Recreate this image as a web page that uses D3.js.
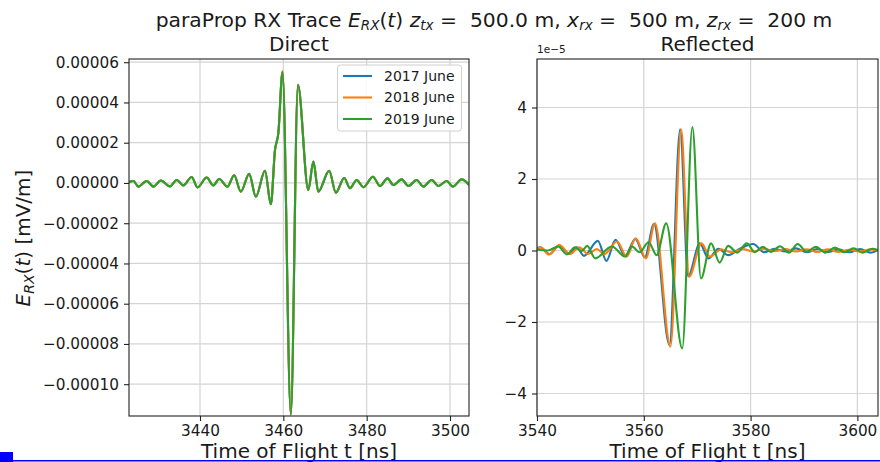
<!DOCTYPE html>
<html><head><meta charset="utf-8">
<script src="https://cdn.jsdelivr.net/npm/d3@7"></script>
<style>body{margin:0;background:#fff} svg{display:block} text{font-family:"DejaVu Sans",sans-serif;fill:#1a1a1a}</style>
</head><body><svg id="c" width="880" height="462"></svg>
<script>
// ---------------- DATA ----------------
const seriesNames = ["2017 June", "2018 June", "2019 June"];
const seriesColors = ["#1f77b4", "#ff7f0e", "#2ca02c"];

// Direct trace (time in ns, field in mV/m) - three years nearly identical
const directTime = [3422.8,3424.0,3425.2,3427.2,3428.8,3430.6,3432.8,3434.4,3436.0,3438.0,3439.4,3441.6,3443.2,3444.6,3446.6,3448.2,3449.8,3451.8,3453.4,3455.6,3457.0,3458.0,3458.8,3459.8,3461.8,3463.5,3466.0,3467.2,3468.4,3471.0,3472.6,3474.6,3476.0,3477.6,3479.2,3481.5,3483.2,3485.0,3486.4,3488.4,3490.0,3492.0,3493.6,3495.6,3497.2,3499.2,3500.7,3502.8,3504.6];
const direct2017 = [0.3e-6,1.0e-6,-1.8e-6,1.0e-6,-1.8e-6,1.2e-6,-1.7e-6,1.5e-6,-1.2e-6,3.0e-6,-2.2e-6,2.7e-6,-1.2e-6,2.0e-6,-1.8e-6,3.8e-6,-4.3e-6,4.5e-6,-6.8e-6,6.1e-6,-10.6e-6,16.4e-6,24.7e-6,55.4e-6,-115e-6,48.8e-6,-3.5e-6,10.6e-6,-4.3e-6,6.1e-6,-4.8e-6,2.5e-6,-2.6e-6,1.5e-6,-2.1e-6,3.1e-6,-1.5e-6,2.3e-6,-1.0e-6,1.8e-6,-1.5e-6,1.5e-6,-1.8e-6,1.5e-6,-1.5e-6,1.0e-6,-1.8e-6,1.8e-6,-1.0e-6];
const direct2018 = [0.3e-6,1.0e-6,-1.8e-6,1.0e-6,-1.8e-6,1.2e-6,-1.7e-6,1.5e-6,-1.2e-6,3.0e-6,-2.2e-6,2.7e-6,-1.2e-6,2.0e-6,-1.8e-6,3.8e-6,-4.3e-6,4.5e-6,-6.8e-6,6.1e-6,-10.6e-6,16.4e-6,24.7e-6,55.6e-6,-115e-6,48.8e-6,-3.5e-6,10.6e-6,-4.3e-6,6.1e-6,-4.8e-6,2.5e-6,-2.6e-6,1.5e-6,-2.1e-6,3.1e-6,-1.5e-6,2.3e-6,-1.0e-6,1.8e-6,-1.5e-6,1.5e-6,-1.8e-6,1.5e-6,-1.5e-6,1.0e-6,-1.8e-6,1.8e-6,-1.0e-6];
const direct2019 = [0.3e-6,1.0e-6,-1.8e-6,1.0e-6,-1.8e-6,1.2e-6,-1.7e-6,1.5e-6,-1.2e-6,3.0e-6,-2.2e-6,2.7e-6,-1.2e-6,2.0e-6,-1.8e-6,3.8e-6,-4.3e-6,4.5e-6,-6.8e-6,6.1e-6,-10.6e-6,16.4e-6,24.7e-6,55.0e-6,-115e-6,48.6e-6,-3.5e-6,10.6e-6,-4.3e-6,6.1e-6,-4.8e-6,2.5e-6,-2.6e-6,1.5e-6,-2.1e-6,3.1e-6,-1.5e-6,2.3e-6,-1.0e-6,1.8e-6,-1.5e-6,1.5e-6,-1.8e-6,1.5e-6,-1.5e-6,1.0e-6,-1.8e-6,1.8e-6,-1.0e-6];

// Reflected trace
const reflTime2017 = [3539.9,3540.6,3542.3,3544.2,3546.1,3547.4,3548.8,3551.4,3553.0,3554.7,3556.5,3558.4,3560.2,3561.9,3564.8,3566.8,3568.3,3570.5,3572.1,3574.0,3575.8,3578.0,3580.5,3582.5,3584.5,3586.5,3588.5,3590.5,3592.5,3594.5,3596.5,3598.5,3600.5,3602.5,3604.0];
const refl2017 = [0.06e-5,0.09e-5,-0.10e-5,0.14e-5,-0.10e-5,0.09e-5,-0.15e-5,0.27e-5,-0.29e-5,0.30e-5,-0.15e-5,0.32e-5,-0.19e-5,0.74e-5,-2.64e-5,3.39e-5,-0.72e-5,0.20e-5,-0.22e-5,0.05e-5,-0.13e-5,0.05e-5,0.18e-5,-0.05e-5,0.05e-5,-0.03e-5,0.06e-5,-0.05e-5,0.04e-5,-0.04e-5,0.03e-5,-0.05e-5,0.04e-5,-0.06e-5,0.02e-5];
const reflTime2018 = [3539.9,3540.8,3542.2,3544.2,3546.2,3547.9,3549.6,3551.2,3552.6,3555.0,3556.8,3558.5,3560.4,3562.1,3565.0,3567.0,3568.5,3570.8,3572.4,3574.5,3576.5,3578.5,3580.5,3582.5,3584.5,3586.5,3588.5,3590.5,3592.5,3594.5,3596.5,3598.5,3600.5,3602.5,3604.0];
const refl2018 = [0.04e-5,0.08e-5,-0.12e-5,0.15e-5,-0.10e-5,0.09e-5,-0.10e-5,0.04e-5,-0.10e-5,0.25e-5,-0.17e-5,0.34e-5,-0.22e-5,0.76e-5,-2.69e-5,3.38e-5,-0.73e-5,0.20e-5,-0.17e-5,0.03e-5,-0.05e-5,0.04e-5,-0.03e-5,0.05e-5,-0.02e-5,0.04e-5,-0.03e-5,0.03e-5,-0.04e-5,0.03e-5,-0.04e-5,0.02e-5,-0.03e-5,0.03e-5,0.0];
const reflTime2019 = [3539.9,3542.0,3544.0,3545.6,3547.1,3548.4,3549.4,3550.9,3554.0,3556.5,3557.8,3559.2,3560.9,3562.4,3564.2,3567.2,3569.1,3570.7,3572.6,3574.2,3575.8,3577.5,3579.3,3580.8,3582.3,3583.8,3585.5,3587.2,3588.8,3590.5,3592.2,3594.0,3595.8,3597.5,3599.3,3601.0,3602.8,3604.0];
const refl2019 = [0.03e-5,0.0,0.11e-5,-0.11e-5,0.09e-5,-0.01e-5,0.13e-5,-0.22e-5,0.11e-5,-0.17e-5,0.11e-5,-0.05e-5,0.23e-5,-0.13e-5,0.76e-5,-2.74e-5,3.45e-5,-0.78e-5,0.20e-5,-0.34e-5,0.13e-5,-0.06e-5,0.20e-5,-0.05e-5,0.10e-5,-0.04e-5,0.12e-5,-0.06e-5,0.18e-5,-0.03e-5,0.10e-5,-0.06e-5,0.08e-5,-0.05e-5,0.06e-5,-0.06e-5,0.05e-5,0.0];

// Ticks
const directXTicks = [3440, 3460, 3480, 3500];
const directYTicks = [-0.0001, -0.00008, -0.00006, -0.00004, -0.00002, 0, 0.00002, 0.00004, 0.00006];
const reflXTicks = [3540, 3560, 3580, 3600];
const reflYTicks = [-4e-5, -2e-5, 0, 2e-5, 4e-5];
const directXDomain = [3422.96, 3504.56];
const directYDomain = [-0.0001158, 0.0000616];
const reflXDomain = [3540, 3603.86];
const reflYDomain = [-4.63e-5, 5.357e-5];

// ---------------- DRAW ----------------
const svg = d3.select("#c");
svg.append("rect").attr("width", 880).attr("height", 462).attr("fill", "#fff");
const minus = s => s.replace(/-/g, "\u2212");

function panel(o) {
  const g = svg.append("g");
  const x = d3.scaleLinear().domain(o.xd).range([o.x0, o.x1]);
  const y = d3.scaleLinear().domain(o.yd).range([o.y1, o.y0]);
  g.selectAll(".gx").data(o.xt).join("line")
    .attr("x1", d => x(d)).attr("x2", d => x(d)).attr("y1", o.y0).attr("y2", o.y1)
    .attr("stroke", "#d4d4d4").attr("stroke-width", 1.2);
  g.selectAll(".gy").data(o.yt).join("line")
    .attr("y1", d => y(d)).attr("y2", d => y(d)).attr("x1", o.x0).attr("x2", o.x1)
    .attr("stroke", "#d4d4d4").attr("stroke-width", 1.2);
  const cid = "clip" + o.id;
  svg.append("clipPath").attr("id", cid).append("rect")
    .attr("x", o.x0).attr("y", o.y0).attr("width", o.x1 - o.x0).attr("height", o.y1 - o.y0);
  const line = d3.line().x(d => x(d[0])).y(d => y(d[1])).curve(d3.curveMonotoneX);
  const lg = g.append("g").attr("clip-path", `url(#${cid})`);
  o.series.forEach((s, i) => {
    lg.append("path").attr("d", line(d3.zip(s.t, s.v)))
      .attr("fill", "none").attr("stroke", seriesColors[i]).attr("stroke-width", 2.1)
      .attr("stroke-linejoin", "round");
  });
  g.append("rect").attr("x", o.x0).attr("y", o.y0).attr("width", o.x1 - o.x0).attr("height", o.y1 - o.y0)
    .attr("fill", "none").attr("stroke", "#222").attr("stroke-width", 1.1);
  const xa = g.append("g").attr("transform", `translate(0,${o.y1})`)
    .call(d3.axisBottom(x).tickValues(o.xt).tickSize(5).tickPadding(4).tickFormat(d3.format("d")));
  const ya = g.append("g").attr("transform", `translate(${o.x0},0)`)
    .call(d3.axisLeft(y).tickValues(o.yt).tickSize(5).tickPadding(5).tickFormat(d => minus(o.yf(d))));
  [xa, ya].forEach(a => {
    a.select(".domain").remove();
    a.selectAll("line").attr("stroke", "#222").attr("stroke-width", 1.1);
    a.selectAll("text").attr("font-size", 15.3).attr("font-family", "DejaVu Sans").attr("fill", "#1a1a1a");
  });
  g.append("text").attr("x", (o.x0 + o.x1) / 2).attr("y", 51).attr("text-anchor", "middle")
    .attr("font-size", 20).text(o.title);
  g.append("text").attr("x", (o.x0 + o.x1) / 2).attr("y", 458).attr("text-anchor", "middle")
    .attr("font-size", 20).text("Time of Flight t [ns]");
  return {x, y, g};
}

panel({id: "d", x0: 129, x1: 469, y0: 59, y1: 416, xd: directXDomain, yd: directYDomain,
  xt: directXTicks, yt: directYTicks, yf: d3.format(".5f"), title: "Direct",
  series: [{t: directTime, v: direct2017}, {t: directTime, v: direct2018}, {t: directTime, v: direct2019}]});

panel({id: "r", x0: 537, x1: 878, y0: 59, y1: 416, xd: reflXDomain, yd: reflYDomain,
  xt: reflXTicks, yt: reflYTicks, yf: d => d3.format("d")(Math.round(d / 1e-5)), title: "Reflected",
  series: [{t: reflTime2017, v: refl2017}, {t: reflTime2018, v: refl2018}, {t: reflTime2019, v: refl2019}]});

// offset text
svg.append("text").attr("x", 537).attr("y", 53).attr("font-size", 10.5).attr("fill", "#333").text("1e\u22125");

// legend
const lg = svg.append("g");
lg.append("rect").attr("x", 337.5).attr("y", 65).attr("width", 124).attr("height", 66).attr("rx", 3)
  .attr("fill", "#fff").attr("fill-opacity", 0.85).attr("stroke", "#d0d0d0");
seriesNames.forEach((n, i) => {
  const yy = 76 + i * 21.5;
  lg.append("line").attr("x1", 343).attr("x2", 372).attr("y1", yy).attr("y2", yy)
    .attr("stroke", seriesColors[i]).attr("stroke-width", 2.1);
  lg.append("text").attr("x", 384).attr("y", yy).attr("dy", "0.35em").attr("font-size", 14).text(n);
});

// suptitle with math parts
const t = svg.append("text").attr("x", 494).attr("y", 26.5).attr("text-anchor", "middle")
  .attr("font-size", 20.3).style("white-space", "pre");
const pieces = [
  ["paraProp RX Trace ", 0, 0], ["E", 1, 0], ["RX", 1, 1], ["(", 0, -1], ["t", 1, 0], [")", 0, 0], [" ", 0, 0],
  ["z", 1, 0], ["tx", 1, 1], [" = ", 0, -1], [" 500.0 m, ", 0, 0],
  ["x", 1, 0], ["rx", 1, 1], [" = ", 0, -1], [" 500 m, ", 0, 0],
  ["z", 1, 0], ["rx", 1, 1], [" = ", 0, -1], [" 200 m", 0, 0]
];
pieces.forEach(p => {
  const s = t.append("tspan").text(p[0]);
  if (p[1]) s.attr("font-style", "italic");
  if (p[2] === 1) s.attr("font-size", 13.5).attr("dy", 3.5);
  if (p[2] === -1) s.attr("dy", -3.5);
});

// y label
const yl = svg.append("text").attr("transform", "translate(30,238) rotate(-90)").attr("text-anchor", "middle")
  .attr("font-size", 20).style("white-space", "pre");
yl.append("tspan").attr("font-style", "italic").text("E");
yl.append("tspan").attr("font-style", "italic").attr("font-size", 14).attr("dy", 4).text("RX");
yl.append("tspan").attr("dy", -4).text("(");
yl.append("tspan").attr("font-style", "italic").text("t");
yl.append("tspan").text(") [mV/m]");

// bottom-edge artifacts
svg.append("rect").attr("x", 0).attr("y", 452).attr("width", 13).attr("height", 10).attr("fill", "#0000ff");
svg.append("rect").attr("x", 0).attr("y", 460).attr("width", 880).attr("height", 1.5).attr("fill", "#0000ff");
</script></body></html>
